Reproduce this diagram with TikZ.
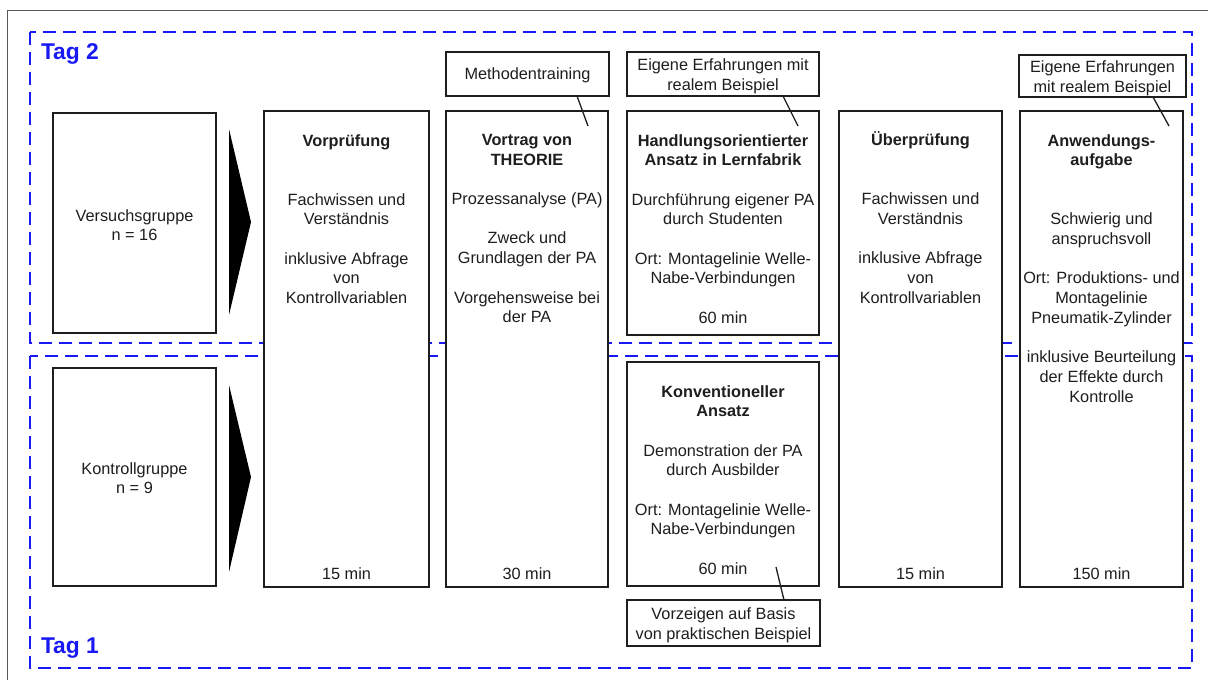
\documentclass[tikz,border=0pt]{standalone}
\usepackage{fontspec}
\setmainfont{Liberation Sans}
\usetikzlibrary{calc}
\definecolor{daybl}{RGB}{25,25,245}
\definecolor{ink}{RGB}{30,30,30}
\begin{document}
\begin{tikzpicture}[x=1pt,y=-1pt,
  every node/.style={inner sep=0pt, outer sep=0pt, text=ink},
  body/.style={font=\fontsize{16.3}{19.7}\selectfont},
  stepbox/.style={draw=ink, line width=1.4pt, fill=white, rectangle, anchor=north west},
  notetext/.style={align=center, body},
  content/.style={align=center, anchor=north, body},
  dur/.style={anchor=base, body},
  dayframe/.style={draw=daybl, line width=1.6pt, dash pattern=on 13pt off 7pt},
  daylabel/.style={anchor=base west, text=daybl, font=\fontsize{22.8}{26}\selectfont\bfseries},
  link/.style={draw=ink, line width=1.3pt}]
\useasboundingbox (0,0) rectangle (1208,680);
\fill[white] (0,0) rectangle (1208,680);
% outer frame
\draw[gray!70!black, line width=0.8pt] (7,700) -- (7,10) -- (1230,10);

% day frames
\draw[dayframe] (30,32) rectangle (1192,343);
\draw[dayframe] (30,356) rectangle (1192,668);
\node[daylabel] (tag2) at (41,59) {Tag 2};
\node[daylabel] (tag1) at (41,653) {Tag 1};

% groups
\node[stepbox, minimum width=163pt, minimum height=220pt] (vg) at (53,113) {};
\node[stepbox, minimum width=163pt, minimum height=218pt] (kg) at (53,368) {};
\node[content] (vgtx) at (134.5,209.2) {Versuchsgruppe\\n = 16};
\node[content] (kgtx) at (134.5,462.2) {Kontrollgruppe\\n = 9};
\fill[black] (229,129) -- (251,222) -- (229,315) -- cycle;
\fill[black] (229,385) -- (251,477) -- (229,572) -- cycle;

% steps
\node[stepbox, minimum width=165pt, minimum height=476pt] (vp) at (264,111) {};
\node[stepbox, minimum width=162pt, minimum height=476pt] (vt) at (446,111) {};
\node[stepbox, minimum width=192pt, minimum height=224pt] (ha) at (627,111) {};
\node[stepbox, minimum width=192pt, minimum height=224pt] (ko) at (627,362) {};
\node[stepbox, minimum width=163pt, minimum height=476pt] (ue) at (839,111) {};
\node[stepbox, minimum width=163pt, minimum height=476pt] (an) at (1020,111) {};

\node[content] (vptx) at (346.5,134.2) {\textbf{Vorprüfung}\\[39.4pt]Fachwissen und\\Verständnis\\[19.7pt]inklusive Abfrage\\von\\Kontrollvariablen};
\node[content] (vttx) at (527,134.2) {\textbf{Vortrag von}\\\textbf{THEORIE}\\[19.7pt]Prozessanalyse (PA)\\[19.7pt]Zweck und\\Grundlagen der PA\\[19.7pt]Vorgehensweise bei\\der PA};
\node[content] (hatx) at (723,134.2) {\textbf{Handlungsorientierter}\\\textbf{Ansatz in Lernfabrik}\\[19.7pt]Durchführung eigener PA\\durch Studenten\\[19.7pt]Ort: Montagelinie Welle-\\Nabe-Verbindungen\\[19.7pt]60 min};
\node[content] (kotx) at (723,385.2) {\textbf{Konventioneller}\\\textbf{Ansatz}\\[19.7pt]Demonstration der PA\\durch Ausbilder\\[19.7pt]Ort: Montagelinie Welle-\\Nabe-Verbindungen\\[19.7pt]60 min};
\node[content] (uetx) at (920.5,131.8) {\textbf{Überprüfung}\\[39.4pt]Fachwissen und\\Verständnis\\[19.7pt]inklusive Abfrage\\von\\Kontrollvariablen};
\node[content] (antx) at (1101.5,134.2) {\textbf{Anwendungs-}\\\textbf{aufgabe}\\[39.4pt]Schwierig und\\anspruchsvoll\\[19.7pt]Ort: Produktions- und\\Montagelinie\\Pneumatik-Zylinder\\[19.7pt]inklusive Beurteilung\\der Effekte durch\\Kontrolle};

\node[dur] (vpmin) at (346.5,579) {15 min};
\node[dur] (vtmin) at (527,579) {30 min};
\node[dur] (uemin) at (920.5,579) {15 min};
\node[dur] (anmin) at (1101.5,579) {150 min};

% notes
\node[stepbox, minimum width=163pt, minimum height=44pt] (mt) at (446,52) {};
\node[stepbox, minimum width=192pt, minimum height=44pt] (ee1) at (627,52) {};
\node[stepbox, minimum width=167pt, minimum height=42pt] (ee2) at (1019,55) {};
\node[stepbox, minimum width=193pt, minimum height=46pt] (vz) at (627,600) {};
\node[notetext] (mttx) at ([yshift=-1.5pt]mt.center) {Methodentraining};
\node[notetext] (ee1tx) at ([yshift=-2.5pt]ee1.center) {Eigene Erfahrungen mit\\realem Beispiel};
\node[notetext] (ee2tx) at ([yshift=-2.5pt]ee2.center) {Eigene Erfahrungen\\mit realem Beispiel};
\node[notetext] (vztx) at ([yshift=-2.5pt]vz.center) {Vorzeigen auf Basis\\von praktischen Beispiel};

\coordinate (mtend) at (588,126);
\coordinate (ee1end) at (798,126);
\coordinate (ee2end) at (1169,126);
\coordinate (vzend) at (776,567);
\draw[link] ([xshift=-32pt]mt.south east) -- (mtend);
\draw[link] ([xshift=-36pt]ee1.south east) -- (ee1end);
\draw[link] ([xshift=-33pt]ee2.south east) -- (ee2end);
\draw[link] ([xshift=-36pt]vz.north east) -- (vzend);
\end{tikzpicture}
\end{document}
